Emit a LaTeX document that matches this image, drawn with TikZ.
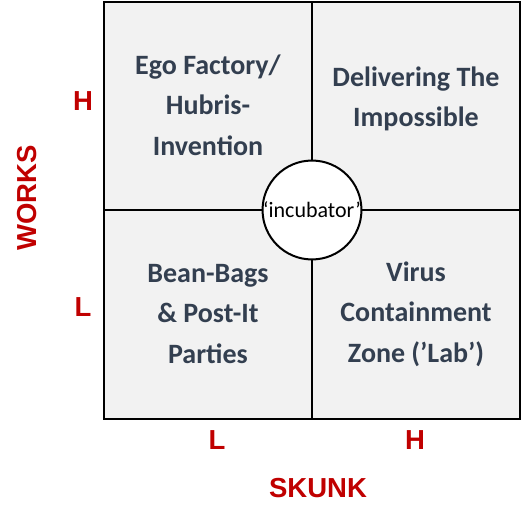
\documentclass[tikz,border=0pt]{standalone}
\usepackage{fontspec}
\setmainfont{Carlito}
\newfontfamily\arialfont{Liberation Sans}
\definecolor{quadfill}{HTML}{F2F2F2}
\definecolor{quadtext}{HTML}{333F50}
\definecolor{axisred}{HTML}{C00000}
\begin{document}
\begin{tikzpicture}[x=1pt,y=-1pt,
  quad/.style={draw=black,line width=2pt,fill=quadfill},
  qtext/.style={align=center,text=quadtext,font=\fontsize{28}{40.5}\selectfont\bfseries,inner sep=0pt},
  axislabel/.style={text=axisred,font=\arialfont\fontsize{27.5}{30}\selectfont\bfseries,inner sep=0pt},
  hub/.style={circle,draw=black,line width=2pt,fill=white,minimum size=96pt,inner sep=0pt,font=\fontsize{22}{24}\selectfont}]
\useasboundingbox (0,0) rectangle (524,521);
\draw[quad] (104,2) rectangle (312,210);
\draw[quad] (312,2) rectangle (520,210);
\draw[quad] (104,210) rectangle (312,419);
\draw[quad] (312,210) rectangle (520,419);
\node[qtext] (tl) at (208,105) {Ego Factory/\\Hubris-\\Invention};
\node[qtext] (tr) at (416,99) {Delivering The\\Impossible};
\node[qtext] (bl) at (208,314) {Bean-Bags\\\& Post-It\\Parties};
\node[qtext] (br) at (416,314) {Virus\\Containment\\Zone (’Lab’)};
\node[hub] (inc) at (312,210) {‘incubator’};
\node[axislabel] (wh) at (83,101) {H};
\node[axislabel] (wl) at (83,307) {L};
\node[axislabel] (sl) at (217,440) {L};
\node[axislabel] (sh) at (415,440) {H};
\node[axislabel,rotate=90] (works) at (27,198) {WORKS};
\node[axislabel] (skunk) at (318,488) {SKUNK};
\end{tikzpicture}
\end{document}
